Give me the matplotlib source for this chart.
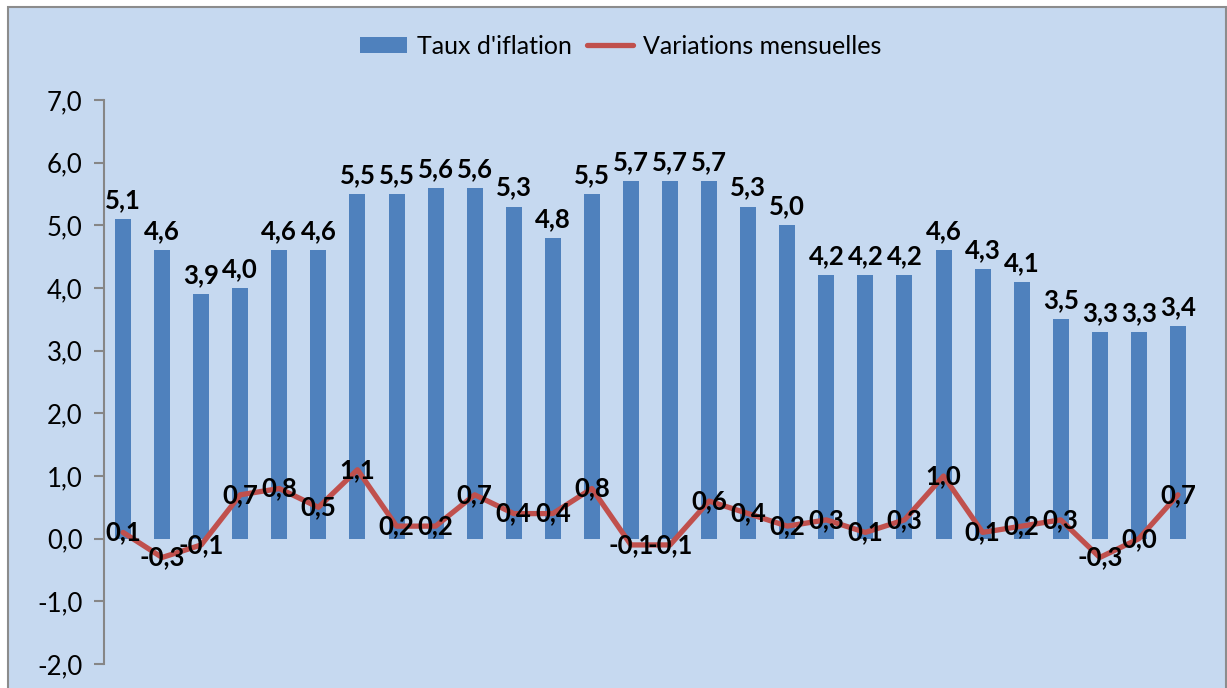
import numpy as np
import matplotlib
matplotlib.use("Agg")
import matplotlib.pyplot as plt
from matplotlib.patches import Rectangle

# monthly inflation rate (bars) and month-on-month change (line)
taux = [5.1, 4.6, 3.9, 4.0, 4.6, 4.6, 5.5, 5.5, 5.6, 5.6, 5.3, 4.8, 5.5, 5.7,
        5.7, 5.7, 5.3, 5.0, 4.2, 4.2, 4.2, 4.6, 4.3, 4.1, 3.5, 3.3, 3.3, 3.4]
variations = [0.1, -0.3, -0.1, 0.7, 0.8, 0.5, 1.1, 0.2, 0.2, 0.7, 0.4, 0.4, 0.8, -0.1,
              -0.1, 0.6, 0.4, 0.2, 0.3, 0.1, 0.3, 1.0, 0.1, 0.2, 0.3, -0.3, 0.0, 0.7]
yticks = [-2.0, -1.0, 0.0, 1.0, 2.0, 3.0, 4.0, 5.0, 6.0, 7.0]

BLUE = "#4F81BD"
RED = "#C0504D"
BG = "#C6D9F0"

plt.rcParams["font.family"] = ["Lato", "DejaVu Sans"]


def fr(v):
    return f"{v:.1f}".replace(".", ",")


fig = plt.figure(figsize=(12.27, 6.88), dpi=100, facecolor="white")
frame = Rectangle((7.5 / 1227, -0.01), 1218.5 / 1227, 0.01 + 681 / 688,
                  transform=fig.transFigure, facecolor=BG,
                  edgecolor="#8C8C8C", lw=1.5, zorder=-10)
fig.patches.append(frame)

ax = fig.add_axes([103.5 / 1227, 24 / 688, 1094 / 1227, 564 / 688])
ax.set_facecolor("none")
x = np.arange(len(taux))

bars = ax.bar(x, taux, width=0.41, color=BLUE, label="Taux d'iflation", zorder=2)
line, = ax.plot(x, variations, color=RED, lw=3.8, label="Variations mensuelles",
                solid_capstyle="round", zorder=3)

for xi, v in zip(x, taux):
    ax.annotate(fr(v), (xi, v), xytext=(0, 5), textcoords="offset points",
                ha="center", va="bottom", fontsize=18.5, fontweight="bold", zorder=4)
for xi, v in zip(x, variations):
    ax.annotate(fr(v), (xi, v), ha="center", va="center",
                fontsize=18.5, fontweight="bold", zorder=4)

ax.set_xlim(-0.5, len(taux) - 0.5)
ax.set_ylim(-2.0, 7.0)
ax.set_yticks(yticks)
ax.set_yticklabels([fr(t) for t in yticks], fontsize=18.5)
ax.set_xticks([])
for s in ["top", "right", "bottom"]:
    ax.spines[s].set_visible(False)
ax.spines["left"].set_color("#868686")
ax.spines["left"].set_linewidth(1.5)
ax.tick_params(axis="y", length=7, width=1.5, color="#868686", pad=8)

fig.legend(handles=[bars, line], loc="center", bbox_to_anchor=(0.506, 0.933),
           ncol=2, frameon=False, fontsize=18, handlelength=1.85, handleheight=0.6,
           columnspacing=0.6, handletextpad=0.4)

fig.savefig("out.png", dpi=100, facecolor="white")
